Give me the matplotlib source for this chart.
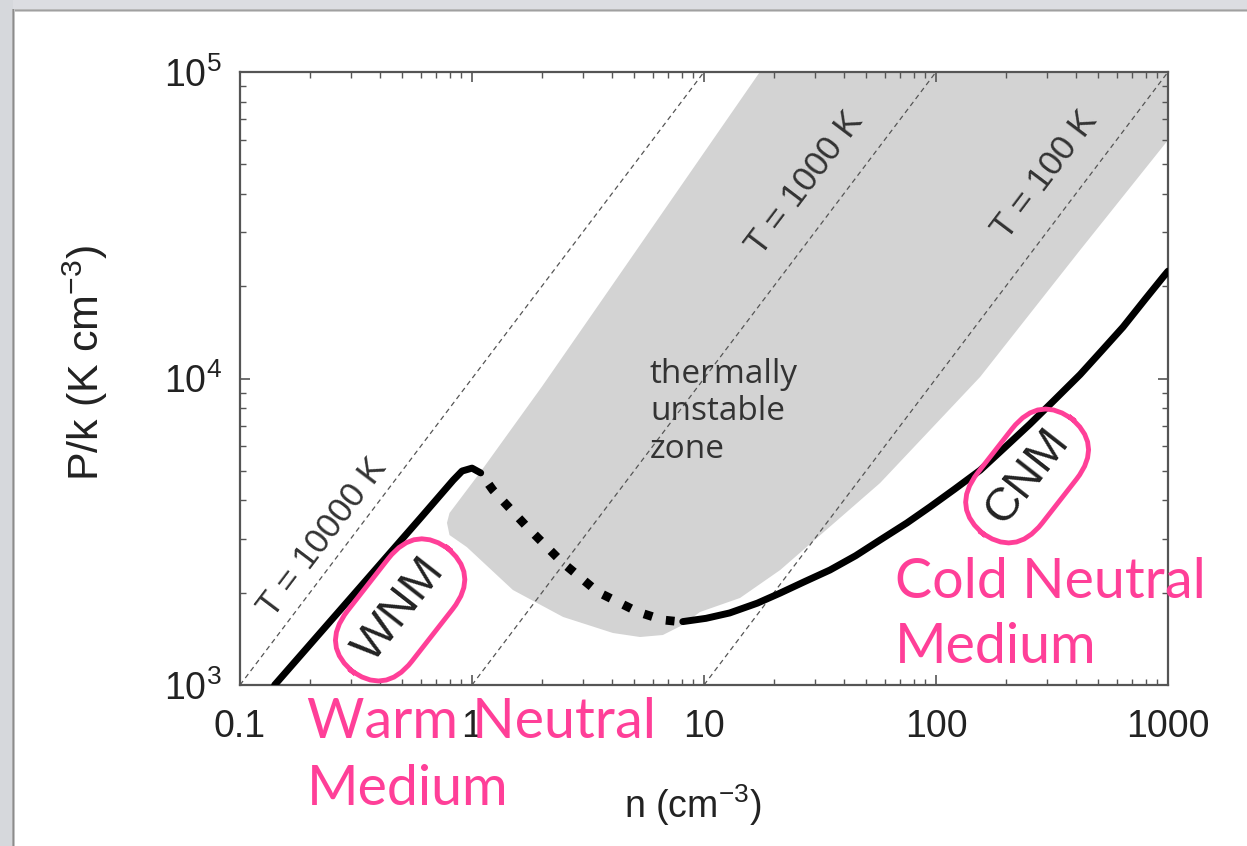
import numpy as np
import matplotlib.pyplot as plt

plt.rcParams['font.family'] = ['Liberation Sans', 'DejaVu Sans']
plt.rcParams['mathtext.default'] = 'regular'

# equilibrium curve: warm branch, unstable branch, cold branch
wnm_n = [0.141, 0.3, 0.6, 0.83, 0.906, 1.0, 1.09]
wnm_p = [1000, 1923, 3508, 4660, 4990, 5100, 4920]
unstable_n = [1.09, 1.23, 1.73, 2.44, 3.49, 5.2, 6.65, 7.8]
unstable_p = [4920, 4327, 3273, 2518, 2010, 1730, 1630, 1610]
cnm_n = [8.1, 10.2, 12.9, 17, 21.3, 27, 34.9, 45, 57.4, 75, 94.2, 120, 155,
         200, 254, 320, 418, 520, 640, 800, 951, 1000]
cnm_p = [1610, 1650, 1718, 1850, 1995, 2170, 2372, 2640, 2972, 3380, 3811, 4350,
         5020, 6000, 7100, 8430, 10300, 12360, 14720, 18200, 21400, 22400]

# outline of the thermally unstable zone
zone_n = [17.4, 3.46, 2.0, 1.08, 0.80, 0.78, 0.80, 0.95, 1.50, 2.47, 4.05, 5.3,
          6.65, 8.1, 9.6, 14.3, 21.3, 57.4, 155, 418, 1000, 1000]
zone_p = [1e5, 17100, 9400, 4920, 3640, 3380, 3085, 2818, 2042, 1667, 1478, 1434,
          1456, 1570, 1730, 1923, 2372, 4560, 10120, 26240, 59950, 1e5]

# isotherms P/k = n T
iso_T = [10000, 1000, 100]
iso_labels = ['T = 10000 K', 'T = 1000 K', 'T = 100 K']
iso_label_n = [0.228, 27.2, 295]
iso_label_p = [3020, 43450, 46130]

xticks = [0.1, 1, 10, 100, 1000]
xtick_labels = ['0.1', '1', '10', '100', '1000']
yticks = [1e3, 1e4, 1e5]
ytick_labels = [r'$10^3$', r'$10^4$', r'$10^5$']

pink = '#ff3f98'
W, H = 1247, 846

fig = plt.figure(figsize=(W / 100, H / 100), dpi=100)

# slide frame with a soft shadow on the top and left edges
bg = np.ones((H, W, 3))
bg[:11, :, :] = np.array([220, 221, 225]) / 255
bg[:, :13, :] = np.array([214, 216, 220]) / 255
for i, g in enumerate([185, 160, 205]):
    bg[9 + i, 13:, :] = g / 255
for i, g in enumerate([170, 140, 195]):
    bg[9:, 12 + i, :] = g / 255
fig.figimage(bg, 0, 0, zorder=-1)

ax = fig.add_axes([240 / W, 1 - 685 / H, 928 / W, 613 / H])
ax.set_xscale('log')
ax.set_yscale('log')
ax.set_xlim(0.1, 1000)
ax.set_ylim(1e3, 1e5)

ax.fill(zone_n, zone_p, color='#d3d3d3', lw=0, zorder=1)

for T in iso_T:
    n_line = np.array([1e3 / T, 1e5 / T])
    ax.plot(n_line, n_line * T, color='#555555', lw=0.9, ls=(0, (4, 3)), zorder=2)

p0 = ax.transData.transform((1, 1e4))
p1 = ax.transData.transform((10, 1e5))
ang = np.degrees(np.arctan2(p1[1] - p0[1], p1[0] - p0[0]))
for lab, xn, yp in zip(iso_labels, iso_label_n, iso_label_p):
    ax.text(xn, yp, lab, rotation=ang, ha='center', va='center',
            fontsize=25, color='#333333', zorder=3)

ax.plot(wnm_n, wnm_p, color='black', lw=5, solid_capstyle='round', zorder=4)
ax.plot(unstable_n, unstable_p, color='black', lw=6.3, ls=(1.0, (1, 1.6)),
        dash_capstyle='butt', zorder=4)
ax.plot(cnm_n, cnm_p, color='black', lw=5, solid_capstyle='round', zorder=4)

ax.text(650 / W, 1 - 358 / H, 'thermally\nunstable\nzone', transform=fig.transFigure,
        ha='left', va='top', fontsize=24, family='Open Sans', color='#333333',
        linespacing=1.17, zorder=5)

# phase tags
for tag, xn, yp in [('WNM', 0.49, 1758), ('CNM', 247, 4808)]:
    ax.text(xn, yp, tag, rotation=52, ha='center', va='center', fontsize=34,
            color='#222222', zorder=5,
            bbox=dict(boxstyle='round,pad=0.4,rounding_size=0.95', fc='none',
                      ec=pink, lw=3.5))

ax.set_xticks(xticks, labels=xtick_labels)
ax.set_yticks(yticks, labels=ytick_labels)
for sp in ax.spines.values():
    sp.set_color('#555555')
    sp.set_linewidth(1.6)
ax.tick_params(which='both', direction='in', top=True, right=True, color='#555555')
ax.tick_params(which='major', length=7, width=1.2, labelsize=27, pad=13,
               labelcolor='#222222')
ax.tick_params(axis='x', which='major', pad=17)
ax.tick_params(which='minor', length=4, width=1)

fig.text(693 / W, 1 - 805 / H, r'n (cm$^{-3}$)', ha='center', va='center',
         fontsize=27, color='#222222')
fig.text(85 / W, 1 - 363 / H, r'P/k (K cm$^{-3}$)', ha='center', va='center',
         rotation=90, fontsize=31, color='#222222')

fig.text(307 / W, 1 - 738 / H, 'Warm Neutral', color=pink, fontsize=40,
         family='Lato', va='baseline', zorder=6)
fig.text(307 / W, 1 - 805 / H, 'Medium', color=pink, fontsize=40,
         family='Lato', va='baseline', zorder=6)
fig.text(895 / W, 1 - 598 / H, 'Cold Neutral', color=pink, fontsize=40,
         family='Lato', va='baseline', zorder=6)
fig.text(895 / W, 1 - 663 / H, 'Medium', color=pink, fontsize=40,
         family='Lato', va='baseline', zorder=6)

fig.savefig('out.png', dpi=100)
